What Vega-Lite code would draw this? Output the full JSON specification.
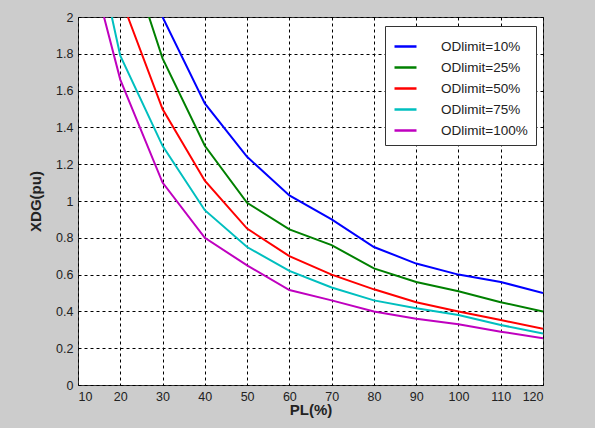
{
  "$schema": "https://vega.github.io/schema/vega-lite/v6.json",
  "width": 465,
  "height": 368,
  "autosize": {"type": "none"},
  "padding": {"left": 78, "top": 17, "right": 52, "bottom": 43},
  "background": "#cccccc",
  "config": {
    "view": {"fill": "white", "stroke": "#333333", "strokeWidth": 1},
    "font": "Liberation Sans",
    "axis": {
      "grid": true, "gridColor": "#000000", "gridDash": [3, 3], "gridOpacity": 1, "gridWidth": 1,
      "domain": false, "ticks": false, "labelOverlap": false,
      "labelFont": "Liberation Sans", "labelFontSize": 12.5, "labelColor": "#222222",
      "titleFont": "Liberation Sans", "titleFontWeight": "bold", "titleFontSize": 15, "titleColor": "#222222"
    },
    "legend": {
      "labelFont": "Liberation Sans", "labelFontSize": 13.5, "labelColor": "#222222"
    }
  },
  "data": {"values": [
    {"pl": 30, "x": 2.0, "s": "ODlimit=10%"},
    {"pl": 40, "x": 1.53, "s": "ODlimit=10%"},
    {"pl": 50, "x": 1.24, "s": "ODlimit=10%"},
    {"pl": 60, "x": 1.03, "s": "ODlimit=10%"},
    {"pl": 70, "x": 0.9, "s": "ODlimit=10%"},
    {"pl": 80, "x": 0.75, "s": "ODlimit=10%"},
    {"pl": 90, "x": 0.66, "s": "ODlimit=10%"},
    {"pl": 100, "x": 0.6, "s": "ODlimit=10%"},
    {"pl": 110, "x": 0.56, "s": "ODlimit=10%"},
    {"pl": 120, "x": 0.5, "s": "ODlimit=10%"},
    {"pl": 26.8, "x": 2.0, "s": "ODlimit=25%"},
    {"pl": 30, "x": 1.775, "s": "ODlimit=25%"},
    {"pl": 40, "x": 1.3, "s": "ODlimit=25%"},
    {"pl": 50, "x": 0.99, "s": "ODlimit=25%"},
    {"pl": 60, "x": 0.846, "s": "ODlimit=25%"},
    {"pl": 70, "x": 0.76, "s": "ODlimit=25%"},
    {"pl": 80, "x": 0.634, "s": "ODlimit=25%"},
    {"pl": 90, "x": 0.56, "s": "ODlimit=25%"},
    {"pl": 100, "x": 0.51, "s": "ODlimit=25%"},
    {"pl": 110, "x": 0.45, "s": "ODlimit=25%"},
    {"pl": 120, "x": 0.4, "s": "ODlimit=25%"},
    {"pl": 21.8, "x": 2.0, "s": "ODlimit=50%"},
    {"pl": 30, "x": 1.5, "s": "ODlimit=50%"},
    {"pl": 40, "x": 1.11, "s": "ODlimit=50%"},
    {"pl": 50, "x": 0.85, "s": "ODlimit=50%"},
    {"pl": 60, "x": 0.7, "s": "ODlimit=50%"},
    {"pl": 70, "x": 0.6, "s": "ODlimit=50%"},
    {"pl": 80, "x": 0.52, "s": "ODlimit=50%"},
    {"pl": 90, "x": 0.45, "s": "ODlimit=50%"},
    {"pl": 100, "x": 0.4, "s": "ODlimit=50%"},
    {"pl": 110, "x": 0.353, "s": "ODlimit=50%"},
    {"pl": 120, "x": 0.306, "s": "ODlimit=50%"},
    {"pl": 18.0, "x": 2.0, "s": "ODlimit=75%"},
    {"pl": 20, "x": 1.79, "s": "ODlimit=75%"},
    {"pl": 30, "x": 1.3, "s": "ODlimit=75%"},
    {"pl": 40, "x": 0.95, "s": "ODlimit=75%"},
    {"pl": 50, "x": 0.75, "s": "ODlimit=75%"},
    {"pl": 60, "x": 0.62, "s": "ODlimit=75%"},
    {"pl": 70, "x": 0.53, "s": "ODlimit=75%"},
    {"pl": 80, "x": 0.46, "s": "ODlimit=75%"},
    {"pl": 90, "x": 0.417, "s": "ODlimit=75%"},
    {"pl": 100, "x": 0.38, "s": "ODlimit=75%"},
    {"pl": 110, "x": 0.326, "s": "ODlimit=75%"},
    {"pl": 120, "x": 0.28, "s": "ODlimit=75%"},
    {"pl": 16.15, "x": 2.0, "s": "ODlimit=100%"},
    {"pl": 20, "x": 1.66, "s": "ODlimit=100%"},
    {"pl": 30, "x": 1.1, "s": "ODlimit=100%"},
    {"pl": 40, "x": 0.8, "s": "ODlimit=100%"},
    {"pl": 50, "x": 0.65, "s": "ODlimit=100%"},
    {"pl": 60, "x": 0.516, "s": "ODlimit=100%"},
    {"pl": 70, "x": 0.46, "s": "ODlimit=100%"},
    {"pl": 80, "x": 0.4, "s": "ODlimit=100%"},
    {"pl": 90, "x": 0.36, "s": "ODlimit=100%"},
    {"pl": 100, "x": 0.33, "s": "ODlimit=100%"},
    {"pl": 110, "x": 0.29, "s": "ODlimit=100%"},
    {"pl": 120, "x": 0.254, "s": "ODlimit=100%"}
  ]},
  "mark": {"type": "line", "strokeWidth": 2, "clip": true},
  "encoding": {
    "x": {
      "field": "pl", "type": "quantitative",
      "scale": {"domain": [10, 120], "nice": false, "zero": false},
      "axis": {"values": [10, 20, 30, 40, 50, 60, 70, 80, 90, 100, 110, 120], "title": "PL(%)", "labelPadding": 5, "titlePadding": 0}
    },
    "y": {
      "field": "x", "type": "quantitative",
      "scale": {"domain": [0, 2], "nice": false},
      "axis": {"values": [0, 0.2, 0.4, 0.6, 0.8, 1, 1.2, 1.4, 1.6, 1.8, 2], "format": "~g", "title": "XDG(pu)", "labelPadding": 5, "titlePadding": 12}
    },
    "color": {
      "field": "s", "type": "nominal",
      "scale": {
        "domain": ["ODlimit=10%", "ODlimit=25%", "ODlimit=50%", "ODlimit=75%", "ODlimit=100%"],
        "range": ["#0000ff", "#008000", "#ff0000", "#00bfbf", "#bf00bf"]
      },
      "legend": {
        "title": null, "orient": "none", "legendX": 307, "legendY": 9,
        "symbolType": "stroke", "symbolSize": 484, "symbolStrokeWidth": 2.5,
        "labelOffset": 23, "padding": 8, "symbolOffset": 0,
        "fillColor": "white", "strokeColor": "#333333"
      }
    }
  }
}
